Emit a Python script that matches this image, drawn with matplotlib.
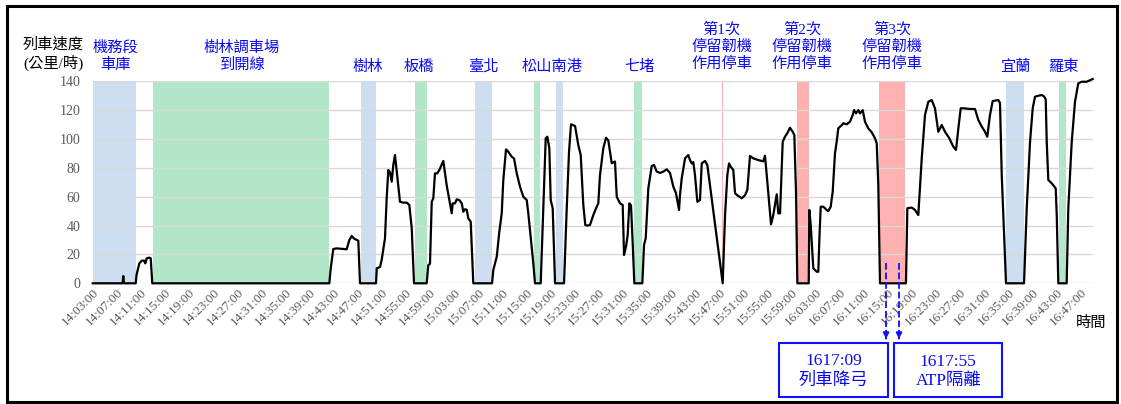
"""
列車速度-時間曲線 (14:03 ~ 16:49)
標示各站停車區段與停留韌機作用停車區段
"""

from datetime import datetime, timedelta
import matplotlib
matplotlib.use('Agg')
import matplotlib.pyplot as plt
import matplotlib.patches as patches
from matplotlib.transforms import blended_transform_factory

# 數字用 Times 系, 中文退回 Noto CJK
plt.rcParams['font.family'] = ['Liberation Serif', 'Noto Sans CJK TC']

W, H = 1121, 404

# 時間 (自 14:03:00 起算, 分鐘) 與速度 (公里/時), 由原圖讀取之折點
t_min = [0, 4.95, 5.08, 5.2, 7.14, 7.27, 7.74, 8.13, 8.52, 8.73, 8.96, 9.40, 9.63, 9.89,
         39.28, 39.51, 39.94, 40.5, 41.6, 42.16, 42.6, 43.0, 43.38, 44.09, 44.37,
         47.03, 47.15, 47.69, 47.97, 48.52, 48.8, 49.07, 49.35, 49.63, 49.9, 50.18, 50.46,
         51.01, 51.56, 52.12, 52.56, 52.96, 53.34,
         55.44, 55.71, 55.99, 56.28, 56.54, 56.82, 57.2, 57.54, 58.2, 58.76, 59.31, 59.6,
         59.76, 60.14, 60.43, 60.86, 61.26, 61.52, 61.8, 62.09, 62.35, 62.75, 63.18,
         66.29, 66.5, 67.07, 67.5, 67.9, 68.16, 68.61, 68.99, 69.56, 69.94, 70.39, 70.93,
         71.48, 72.05, 72.31, 72.59, 73.14, 73.42,
         74.37, 74.8, 75.2, 75.47, 75.8, 76.03, 76.36, 76.75,
         78.24, 78.69, 79.07, 79.4, 80.07, 80.61, 81.01, 81.44, 81.77, 82.1, 82.55, 83.1,
         83.67, 83.93, 84.21, 84.76, 85.21, 85.59, 86.16, 86.7, 86.99, 87.53, 87.98, 88.2,
         88.53, 88.81, 89.08, 89.36, 89.64, 89.91,
         91.24, 91.52, 91.8, 92.23, 92.8, 93.18, 93.63, 94.17, 94.72, 95.29, 95.83, 96.38,
         96.83, 97.33, 97.49, 97.78, 98.33, 98.87, 99.15, 99.44, 99.7, 99.98, 100.37,
         100.81, 101.1, 101.65, 102.03, 104.58,
         104.97, 105.35, 105.63, 105.91, 106.34, 106.63, 107.0, 107.74, 108.28, 108.67,
         109.11, 109.66, 110.49, 111.32, 111.6, 111.89, 112.27, 112.6, 112.98, 113.55,
         113.81, 114.1, 114.54, 114.92, 115.3, 115.75, 116.2, 116.47, 116.75, 116.97,
         118.86, 118.96, 119.2, 119.62, 120.19, 120.45, 120.62, 120.85, 121.28, 121.84,
         122.1, 122.51, 122.84, 123.22, 123.5, 123.77, 124.34, 124.6, 125.17, 125.71,
         126.16, 126.38, 126.71, 127.09, 127.37, 127.82, 128.2, 128.75, 129.32, 129.86,
         130.15, 130.41, 130.69,
         135.0, 135.23, 135.96, 136.51, 137.05, 137.62, 138.16, 138.71, 139.28, 139.82,
         140.37, 140.94, 141.49, 142.2, 142.86, 143.31, 143.7, 144.09, 144.52, 145.63,
         146.46, 147.01, 147.58, 148.12, 148.5, 148.95, 149.4, 150.33, 150.61, 150.9, 151.61,
         154.6, 155.05, 155.6, 156.04, 156.42, 156.97, 157.54, 157.92, 158.2, 158.37,
         158.63, 159.2, 159.86, 160.03, 160.29,
         161.68, 161.95, 162.52, 163.06, 163.61, 164.18, 165.01, 165.56, 166.0]
speed = [0, 0, 5, 0, 0, 5.7, 13.8, 15.7, 15.7, 13.8, 17.3, 17.8, 17.3, 0,
         0, 10.4, 23.8, 24.2, 23.8, 23.6, 30, 32.8, 31, 29.5, 0,
         0, 10.4, 11.3, 16.2, 31.2, 58.9, 78.5, 77, 70.4, 82, 88.9, 78,
         56.5, 55.9, 55.9, 54.3, 38, 0,
         0, 12.7, 13.5, 56.5, 58.9, 76.2, 76.2, 78.5, 84.8, 68, 55.4, 48.5,
         55.4, 55.4, 58.2, 57.7, 55.4, 49.6, 51.3, 51, 45, 42.7, 0,
         0, 9.2, 18.4, 35.8, 48.5, 71.6, 92.8, 91.2, 87.7, 86.5, 76.2, 67,
         60, 57.7, 48.5, 37, 13.9, 0,
         0, 52, 100.5, 101.6, 93.6, 57.7, 52, 0,
         0, 52, 91.2, 110.2, 109, 95.8, 88.9, 54.3, 40.4, 40, 40.4, 47.3,
         53.1, 55.4, 75, 93.6, 100.9, 99, 83.2, 84.4, 60, 55.4, 54.3, 19.6,
         25.4, 33.5, 55.4, 54, 27.7, 0,
         0, 26.6, 31.2, 65.8, 81.3, 82, 77.4, 76.5, 77.4, 79, 76.5, 67,
         62.4, 50.8, 61.2, 72.8, 86.6, 88.9, 85.4, 83.1, 84, 75, 56.5,
         57.7, 83.1, 84.8, 82, 0,
         47.3, 75, 83.1, 80.8, 78.5, 62.4, 61, 58.9, 61, 64.7,
         88.2, 86.6, 85.4, 84.5, 88.4, 75, 56.5, 40.9, 47.3, 61.7,
         48.5, 48.5, 98.1, 101.6, 104, 107.8, 105, 102.8, 63, 0,
         0, 50.8, 40, 10.4, 8, 8, 30, 53.1, 53.1, 50.8,
         50, 53.1, 63.5, 90.1, 98.1, 107.4, 109.6, 110.9, 110.2, 112,
         116.6, 120.1, 117.8, 120.1, 117.8, 120, 112, 107.4, 104.6, 100.5,
         97, 68, 0,
         0, 52, 52.5, 50.8, 47.3, 86.6, 116.6, 125.8, 127, 121.2,
         105, 109.7, 105, 100.5, 94.7, 92.4, 107.4, 121.3, 121.3, 120.8,
         120.8, 113.2, 108.6, 105, 101.6, 116.6, 126.3, 127, 125, 75, 0,
         0, 52, 98.1, 121.3, 129.3, 130, 130.5, 129.5, 127.5, 98.1,
         71.6, 69.3, 65.8, 47.3, 0,
         0, 52, 98.1, 125.8, 138.6, 139.7, 139.7, 140.8, 141.6]

# 停車區段 (分鐘)
blue_zones = [(0, 7.14), (44.54, 46.98), (63.46, 66.29), (76.9, 78.02), (151.6, 154.6)]
green_zones = [(9.96, 39.28), (53.5, 55.45), (73.24, 74.24), (89.86, 91.19), (160.45, 161.56)]
red_zones = [(104.45, 104.71), (116.9, 118.86), (130.5, 134.85)]

# 區段標註
zone_labels = [
    (3.7, '機務段\n車庫'),
    (24.7, '樹林調車場\n到開線'),
    (45.6, '樹林'),
    (54.1, '板橋'),
    (64.8, '臺北'),
    (76.2, '松山南港'),
    (90.8, '七堵'),
    (104.4, '第1次\n停留韌機\n作用停車'),
    (117.8, '第2次\n停留韌機\n作用停車'),
    (132.7, '第3次\n停留韌機\n作用停車'),
    (153.2, '宜蘭'),
    (161.2, '羅東'),
]

# 事件箭頭 (分鐘) 與說明框
event_t = [131.7, 133.85]
event_text = ['1617:09\n列車降弓', '1617:55\nATP隔離']

tick_min = list(range(0, 165, 4))
start = datetime(2000, 1, 1, 14, 3, 0)
tick_labels = [(start + timedelta(minutes=m)).strftime('%H:%M:%S') for m in tick_min]

BLUE_TXT = '#0a0af0'


def px2fig(x, y):
    """像素座標 -> figure 比例座標"""
    return x / W, 1 - y / H


fig = plt.figure(figsize=(W / 100, H / 100), dpi=100)
ax = fig.add_axes([92.7 / W, 1 - 283.3 / H, 1000.3 / W, 202 / H])

for a, b in blue_zones:
    ax.axvspan(a, b, color='#ccdef0', lw=0, zorder=0.2)
for a, b in green_zones:
    ax.axvspan(a, b, color='#b2e6c8', lw=0, zorder=0.2)
for a, b in red_zones:
    ax.axvspan(a, b, color='#ffb1b1', lw=0, zorder=0.2)

ax.plot(t_min, speed, color='black', lw=1.6, zorder=3, clip_on=False)

ax.set_xlim(0, 166.05)
ax.set_ylim(0, 140)
ax.set_yticks(range(0, 141, 20))
ax.set_xticks(tick_min)
ax.set_xticklabels(tick_labels, rotation=45, ha='right', va='top', rotation_mode='anchor')
ax.tick_params(axis='x', length=0, pad=2.5, labelsize=9.5, labelcolor='#595959')
ax.tick_params(axis='y', length=0, pad=9, labelsize=10, labelcolor='#595959')
ax.grid(axis='y', color='#d9d9d9', lw=1.0)
ax.set_axisbelow('line')
for s in ax.spines.values():
    s.set_visible(False)

# 區段標註 (資料 x, figure y)
trans = blended_transform_factory(ax.transData, fig.transFigure)
for x, txt in zone_labels:
    n = txt.count('\n') + 1
    yc = 66.5 - (n - 1) * 10
    ax.text(x, 1 - yc / H, txt, transform=trans, ha='center', va='center',
            fontsize=11, color=BLUE_TXT, linespacing=1.25)

# 縱軸標題 / 橫軸標題
fig.text(*px2fig(53, 54), '列車速度\n(公里/時)', ha='center', va='center',
         fontsize=11, color='black', linespacing=1.25)
fig.text(*px2fig(1091, 322.7), '時間', ha='center', va='center', fontsize=11, color='black')

# 虛線箭頭
for x in event_t:
    ax.plot([x, x], [14, -37], ls='--', color='#1010ff', lw=1.3, clip_on=False, zorder=4)
    ax.annotate('', xy=(x, -40.5), xytext=(x, -36), annotation_clip=False,
                arrowprops=dict(arrowstyle='-|>', color='#1010ff', lw=1.2, mutation_scale=9))

# 說明框
boxes = [(779, 887.7), (894.3, 1002.3)]
for (x0, x1), txt in zip(boxes, event_text):
    fx0, fy1 = px2fig(x0, 396.7)
    fx1, fy0 = px2fig(x1, 342.7)
    fig.patches.append(patches.Rectangle((fx0, fy1), fx1 - fx0, fy0 - fy1, transform=fig.transFigure,
                                         fill=False, edgecolor='#1010ff', lw=1.5))
    fig.text((fx0 + fx1) / 2, 1 - 371.3 / H, txt, ha='center', va='center',
             fontsize=12.5, color=BLUE_TXT, linespacing=1.3)

# 外框
bx0, by1 = px2fig(7, 402)
bx1, by0 = px2fig(1117, 6)
fig.patches.append(patches.Rectangle((bx0, by1), bx1 - bx0, by0 - by1, transform=fig.transFigure,
                                     fill=False, edgecolor='black', lw=2.2))

fig.savefig('out.png', dpi=100)
